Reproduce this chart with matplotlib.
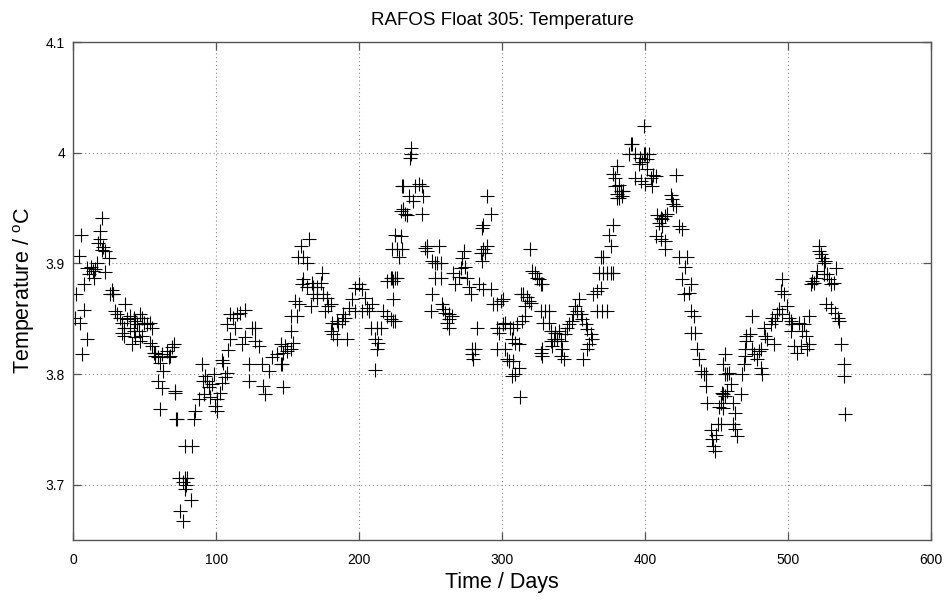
import matplotlib
matplotlib.use("Agg")
import matplotlib.pyplot as plt
import numpy as np

# RAFOS float 305 temperature record
days = [
    1.4, 2.1, 3.7, 4.4, 5.4, 6.1, 7.2, 7.7, 9.6, 9.6, 11.0, 12.4, 13.5, 14.2, 15.5,
    16.6, 17.0, 18.4, 19.0, 20.0, 20.1, 21.0, 22.4, 22.4, 24.7, 25.9, 27.0, 27.7, 27.9,
    29.2, 30.4, 32.9, 34.1, 35.2, 36.3, 37.5, 39.9, 42.2, 43.4, 44.6, 47.0, 48.1, 49.3,
    51.6, 54.0, 55.0, 39.9, 42.2, 45.7, 34.0, 35.2, 43.4, 48.0, 41.0, 47.0,
    54.0, 55.0, 56.2, 57.0, 59.6, 62.0, 65.6, 66.7, 68.0, 69.0, 70.2, 57.0,
    59.6, 62.0, 60.4, 71.4, 72.0, 63.0, 60.9,
    72.6, 74.9, 76.5, 73.7, 77.0, 78.0, 78.4, 79.0, 79.6, 78.0, 82.4, 83.0, 84.2,
    85.4, 87.7, 90.0, 91.0, 71.4,
    92.4, 94.7, 97.0, 98.2, 95.9, 99.4, 100.6, 102.9, 104.0, 106.0, 107.6, 104.0,
    91.2, 93.5, 100.6, 105.0, 108.6, 110.0, 107.6,
    110.0, 112.0, 114.6, 117.0, 120.5, 113.4, 118.0, 120.5, 125.0, 127.4, 122.7,
    122.7, 127.4, 129.7, 132.0, 133.0, 134.4, 136.7, 139.0, 142.6, 145.0, 147.0,
    149.5, 147.0,
    146.0, 145.0, 148.0, 152.0, 154.0, 152.0, 152.0, 156.6, 155.4, 157.7, 159.0,
    157.5, 161.0, 164.6, 163.6, 161.0, 160.0, 163.6, 167.0, 168.0, 170.6, 173.0,
    174.0, 168.0, 170.6, 175.0, 177.6, 166.0, 178.5, 180.0, 176.4,
    181.0, 184.6, 189.0, 193.0, 195.0, 197.4, 199.7, 202.0, 204.0, 206.7, 180.0,
    182.0, 184.6, 185.5, 188.0, 190.4, 191.6, 197.0, 202.0, 205.6, 209.0, 208.0,
    212.6, 215.0, 211.4, 213.5, 212.6, 211.4, 217.0, 219.6, 222.0, 224.0, 219.6,
    222.0, 225.0, 224.0, 223.0, 226.6, 225.4, 229.0, 230.0,
    223.0, 224.0, 226.6, 225.0, 229.0, 227.6, 230.0, 231.0, 232.4, 233.6, 231.0,
    234.7, 238.0, 239.0, 241.7, 244.0, 245.0, 244.0, 236.0, 236.4, 235.4, 246.4,
    247.6, 255.7, 247.6, 251.0, 253.3, 254.6, 257.0, 253.3, 257.0, 251.0, 250.0,
    258.0, 259.0, 260.4, 262.7, 265.0, 262.7, 261.6, 262.7, 267.4, 266.0, 270.0,
    271.0, 272.0, 273.4, 274.4, 275.6, 276.7, 278.0, 283.6, 287.0, 292.0, 282.6,
    279.0, 281.4, 279.0, 280.0, 294.0, 296.6, 299.0, 301.0, 286.0, 287.0, 289.6,
    292.0, 287.0, 289.6, 288.4, 285.0, 286.0, 296.6, 297.7, 301.0, 296.6, 302.0,
    303.5,
    302.0, 305.9, 308.0, 304.6, 308.0, 307.0, 309.4, 311.7, 312.5, 307.0, 309.4,
    311.7, 310.6, 314.0, 316.4, 313.0, 315.0, 317.6, 318.8, 320.0, 316.4, 319.5,
    321.0, 323.4, 324.6, 325.8, 327.0, 328.0, 327.0, 330.4, 332.7, 329.0, 332.7,
    328.0, 327.0, 328.0, 334.0, 334.0, 335.0, 336.2, 337.4, 338.6, 339.8, 341.0,
    342.0, 341.0, 343.4,
    344.4, 345.6, 346.8, 349.0, 350.0, 351.0, 352.6, 353.7, 355.0, 356.0, 358.5,
    359.6, 360.8, 359.6, 357.0, 362.0, 363.0, 364.0, 366.6, 369.0, 366.6, 370.0,
    373.5, 367.7, 371.0, 373.5, 376.0, 378.0, 369.0, 371.0, 376.0, 374.8, 378.0,
    378.0, 380.6, 379.4, 379.4, 380.6, 380.6,
    382.0, 383.0, 385.0, 384.0, 382.0, 388.8, 390.0, 391.0, 393.4, 396.9, 395.8,
    399.3, 400.4, 402.8, 398.0, 401.6, 393.0, 397.0, 400.0, 404.0, 406.0, 407.5,
    405.0, 401.6, 399.3, 421.5, 418.0, 419.0, 420.0, 421.5, 408.6, 411.0, 412.0,
    414.4, 415.6, 409.7, 412.0, 407.5, 411.0, 414.4, 414.4, 423.8, 426.0, 423.8,
    429.6, 428.4, 426.0, 427.3, 430.8, 432.0, 432.0, 434.3, 432.0, 435.4, 436.6,
    437.8, 439.0, 441.4, 442.6, 442.6, 443.8,
    446.0, 447.0, 448.0, 449.0, 450.0, 451.0, 452.0, 453.0, 456.0, 454.0, 456.0,
    455.0, 456.0, 457.6, 458.7, 460.0, 457.6, 455.0, 455.0, 453.0, 462.0, 463.0,
    462.0, 463.0, 464.5, 467.0,
    468.0, 469.0, 470.0, 470.0, 471.0, 471.0, 473.5, 475.0,
    475.0, 476.0, 478.6, 479.8, 481.0, 482.0, 481.0, 484.0, 485.6, 483.0, 488.0,
    489.0, 490.0, 491.0, 492.6, 493.8, 496.0, 495.0, 496.0, 497.0, 499.7, 501.0,
    502.0, 503.0, 502.0, 504.0, 506.6, 509.0, 510.0, 511.0, 512.5, 513.6, 515.0,
    515.0, 508.0,
    516.0, 517.0, 518.0, 519.5, 520.6, 522.0, 523.0, 524.0, 525.0, 527.6, 529.0,
    530.0, 532.0, 533.5, 525.0, 526.0, 522.0, 527.0, 530.0, 533.3, 535.0, 536.0,
    537.0, 539.0, 539.5, 540.0,
]
temps = [
    3.851, 3.872, 3.907, 3.846, 3.926, 3.818, 3.881, 3.858, 3.832, 3.896, 3.890, 3.897, 3.893, 3.887, 3.895,
    3.900, 3.918, 3.929, 3.922, 3.912, 3.941, 3.915, 3.911, 3.892, 3.905, 3.872, 3.876, 3.872, 3.872,
    3.857, 3.854, 3.851, 3.846, 3.842, 3.863, 3.850, 3.852, 3.851, 3.848, 3.845, 3.854, 3.851, 3.846,
    3.845, 3.846, 3.842, 3.842, 3.839, 3.839, 3.837, 3.834, 3.833, 3.834, 3.827, 3.830,
    3.828, 3.825, 3.819, 3.816, 3.815, 3.818, 3.821, 3.815, 3.816, 3.824, 3.827, 3.819,
    3.794, 3.787, 3.768, 3.783, 3.759, 3.803, 3.810,
    3.759, 3.676, 3.667, 3.706, 3.702, 3.706, 3.735, 3.700, 3.706, 3.696, 3.686, 3.735, 3.759,
    3.767, 3.777, 3.809, 3.794, 3.785,
    3.798, 3.788, 3.791, 3.800, 3.779, 3.771, 3.777, 3.783, 3.792, 3.797, 3.801, 3.813,
    3.782, 3.794, 3.767, 3.810, 3.822, 3.832, 3.845,
    3.854, 3.851, 3.854, 3.855, 3.858, 3.842, 3.827, 3.833, 3.842, 3.842, 3.809,
    3.794, 3.830, 3.825, 3.809, 3.789, 3.782, 3.803, 3.815, 3.818, 3.809, 3.819,
    3.821, 3.788,
    3.809, 3.827, 3.825, 3.823, 3.828, 3.839, 3.852, 3.852, 3.866, 3.863, 3.916,
    3.906, 3.906, 3.922, 3.900, 3.886, 3.881, 3.879, 3.882, 3.879, 3.879, 3.882,
    3.891, 3.872, 3.869, 3.872, 3.869, 3.861, 3.861, 3.863, 3.857,
    3.846, 3.848, 3.854, 3.860, 3.868, 3.878, 3.881, 3.877, 3.869, 3.857, 3.839,
    3.836, 3.832, 3.845, 3.848, 3.851, 3.832, 3.857, 3.857, 3.860, 3.863, 3.842,
    3.842, 3.842, 3.832, 3.828, 3.823, 3.804, 3.857, 3.852, 3.850, 3.848, 3.884,
    3.887, 3.887, 3.868, 3.913, 3.913, 3.926, 3.947, 3.970,
    3.887, 3.884, 3.887, 3.848, 3.925, 3.906, 3.913, 3.949, 3.945, 3.944, 3.970,
    3.961, 3.956, 3.970, 3.972, 3.970, 3.961, 3.945, 4.004, 3.999, 3.995, 3.914,
    3.916, 3.916, 3.911, 3.902, 3.900, 3.900, 3.900, 3.887, 3.887, 3.872, 3.857,
    3.863, 3.859, 3.855, 3.854, 3.852, 3.850, 3.846, 3.842, 3.881, 3.891, 3.888,
    3.896, 3.905, 3.911, 3.897, 3.887, 3.879, 3.872, 3.881, 3.877, 3.877, 3.842,
    3.823, 3.823, 3.818, 3.814, 3.863, 3.863, 3.866, 3.868, 3.932, 3.935, 3.961,
    3.945, 3.913, 3.916, 3.909, 3.909, 3.902, 3.842, 3.837, 3.845, 3.823, 3.823,
    3.814,
    3.846, 3.842, 3.842, 3.812, 3.812, 3.798, 3.800, 3.805, 3.779, 3.832, 3.828,
    3.827, 3.845, 3.848, 3.852, 3.872, 3.872, 3.870, 3.866, 3.864, 3.861, 3.913,
    3.893, 3.891, 3.887, 3.886, 3.881, 3.881, 3.857, 3.857, 3.857, 3.846, 3.846,
    3.823, 3.819, 3.816, 3.839, 3.830, 3.825, 3.832, 3.837, 3.832, 3.839, 3.830,
    3.823, 3.816, 3.814,
    3.836, 3.842, 3.845, 3.848, 3.854, 3.861, 3.857, 3.868, 3.854, 3.850, 3.845,
    3.841, 3.827, 3.823, 3.814, 3.836, 3.832, 3.872, 3.875, 3.878, 3.857, 3.857,
    3.857, 3.891, 3.891, 3.891, 3.891, 3.891, 3.906, 3.906, 3.916, 3.926, 3.935,
    3.981, 3.988, 3.977, 3.970, 3.963, 3.959,
    3.971, 3.965, 3.965, 3.961, 3.959, 3.999, 4.008, 4.008, 3.999, 3.995, 3.990,
    3.999, 3.999, 3.999, 3.992, 3.994, 3.977, 3.974, 3.972, 3.977, 3.980, 3.979,
    3.970, 3.985, 4.024, 3.980, 3.962, 3.958, 3.954, 3.952, 3.944, 3.941, 3.940,
    3.943, 3.945, 3.936, 3.934, 3.925, 3.922, 3.920, 3.913, 3.934, 3.931, 3.906,
    3.906, 3.897, 3.886, 3.872, 3.873, 3.881, 3.857, 3.852, 3.837, 3.837, 3.823,
    3.814, 3.803, 3.800, 3.800, 3.789, 3.774,
    3.749, 3.741, 3.735, 3.730, 3.745, 3.755, 3.770, 3.774, 3.780, 3.783, 3.800,
    3.809, 3.818, 3.800, 3.801, 3.791, 3.785, 3.782, 3.769, 3.755, 3.774, 3.765,
    3.755, 3.750, 3.744, 3.782,
    3.800, 3.809, 3.816, 3.823, 3.830, 3.834, 3.836, 3.852,
    3.823, 3.818, 3.814, 3.821, 3.805, 3.800, 3.823, 3.834, 3.832, 3.842, 3.845,
    3.851, 3.827, 3.848, 3.854, 3.859, 3.854, 3.875, 3.886, 3.872, 3.861, 3.851,
    3.848, 3.845, 3.839, 3.825, 3.819, 3.825, 3.839, 3.845, 3.834, 3.823, 3.827,
    3.852, 3.846,
    3.881, 3.884, 3.882, 3.887, 3.893, 3.911, 3.908, 3.905, 3.890, 3.890, 3.886,
    3.881, 3.882, 3.896, 3.900, 3.902, 3.916, 3.863, 3.860, 3.855, 3.851, 3.848,
    3.827, 3.809, 3.798, 3.764,
]

xticks = [0, 100, 200, 300, 400, 500, 600]
yticks = [3.7, 3.8, 3.9, 4.0, 4.1]
ytick_labels = ["3.7", "3.8", "3.9", "4", "4.1"]

plt.rcParams["font.family"] = ["Liberation Sans", "DejaVu Sans"]
plt.rcParams["mathtext.fontset"] = "custom"
plt.rcParams["mathtext.rm"] = "Liberation Sans"
plt.rcParams["mathtext.it"] = "Liberation Sans"

fig = plt.figure(figsize=(9.48, 6.0), dpi=100)
ax = fig.add_axes([73.3 / 948, 60 / 600, (930.7 - 73.3) / 948, 498 / 600])

ax.plot(days, temps, linestyle="none", marker="+", markersize=9.5,
        markeredgewidth=0.8, color="black")

ax.set_xlim(0, 600)
ax.set_ylim(3.65, 4.1)
ax.set_xticks(xticks)
ax.set_yticks(yticks)
ax.set_yticklabels(ytick_labels)

ax.grid(True, color="#8c8c8c", linestyle=(0, (1, 2.5)), linewidth=0.8)
ax.set_axisbelow(True)
for s in ax.spines.values():
    s.set_color("#555555")
    s.set_linewidth(1.0)
ax.tick_params(direction="in", length=6, width=0.9, color="#555555",
               top=True, right=True, labelsize=10)
ax.tick_params(axis="x", pad=9)
ax.tick_params(axis="y", pad=6)

ax.set_title("RAFOS Float 305: Temperature", fontsize=13.5, pad=12)
ax.set_xlabel("Time / Days", fontsize=15.5, labelpad=4)
ax.set_ylabel(r"Temperature / $^{\mathrm{o}}$C", fontsize=15.5, labelpad=6)

fig.savefig("out.png", dpi=100)
